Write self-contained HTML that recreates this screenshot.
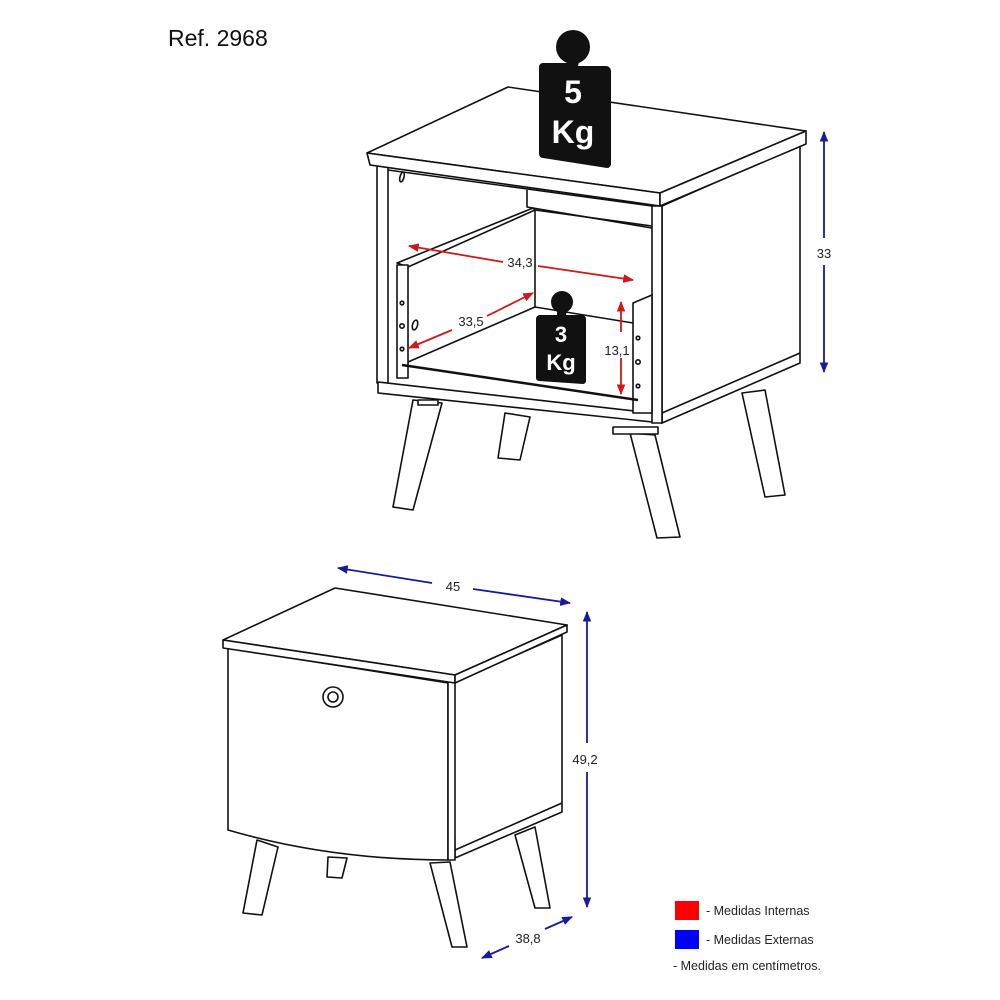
<!DOCTYPE html>
<html><head><meta charset="utf-8"><style>
html,body{margin:0;padding:0;background:#fff;}
svg{display:block;font-family:"Liberation Sans",Arial,sans-serif;}
</style></head><body>
<svg width="1000" height="1000" viewBox="0 0 1000 1000" xmlns="http://www.w3.org/2000/svg">
<defs>
<marker id="ar" viewBox="0 0 10 10" refX="9" refY="5" markerWidth="6" markerHeight="6" orient="auto-start-reverse"><path d="M0,1 L10,5 L0,9 z" fill="#d01818"/></marker>
<marker id="ab" viewBox="0 0 10 10" refX="9" refY="5" markerWidth="6" markerHeight="6" orient="auto-start-reverse"><path d="M0,1 L10,5 L0,9 z" fill="#1a1a9a"/></marker>
</defs>
<rect width="1000" height="1000" fill="#fff"/>
<text x="168" y="46" font-size="23" fill="#111">Ref. 2968</text>

<g fill="#fff" stroke="#111" stroke-width="1.6" stroke-linejoin="round">
<!-- TOP FURNITURE legs -->
<polygon points="505,413 530,417 520,460 498,458"/>
<polygon points="742,393 765,390 785,495 765,497"/>
<polygon points="413,400 442,403 413,510 393,507"/>
<polygon points="630,433 655,435 680,537 657,538"/>
<!-- body right side -->
<polygon points="662,206 800,145 800,363 662,423"/>
<line x1="662" y1="413" x2="800" y2="353"/>
<!-- left side panel -->
<rect x="377" y="165" width="11" height="218"/>
<!-- back inner -->
<line x1="388" y1="170" x2="652" y2="206"/>
<polyline points="527,190 527,207 652,228" fill="none"/>
<!-- bottom panel -->
<polygon points="378,382 652,413 662,413 662,423 378,393"/>
<!-- right front vertical -->
<rect x="652" y="206" width="10" height="217"/>
<!-- drawer -->
<polygon points="397,263 533,208 535,210 408,267"/>
<line x1="535" y1="210" x2="535" y2="307"/>
<line x1="535" y1="307" x2="408" y2="362"/>
<line x1="535" y1="307" x2="633" y2="323"/>
<line x1="535" y1="210" x2="652" y2="226"/>
<rect x="397" y="265" width="11" height="113"/>
<polygon points="633,303 652,295 652,413 633,413"/>
<line x1="402" y1="365" x2="638" y2="400" stroke-width="2.5"/>
<circle cx="402" cy="303" r="1.8"/><circle cx="402" cy="326" r="2.2"/><circle cx="402" cy="349" r="1.8"/>
<circle cx="638" cy="338" r="1.8"/><circle cx="638" cy="362" r="2.2"/><circle cx="638" cy="386" r="1.8"/>
<ellipse cx="415" cy="325" rx="2.5" ry="5" transform="rotate(15 415 325)"/>
<ellipse cx="402" cy="177" rx="2" ry="5" transform="rotate(15 402 177)"/>
<!-- top -->
<polygon points="367,153 508,87 806,131 660,193"/>
<polygon points="367,153 660,193 660,206 370,165"/>
<polygon points="660,193 806,131 806,144 660,206"/>
<rect x="418" y="400" width="20" height="5"/><rect x="613" y="427" width="45" height="7"/>
</g>

<!-- weights -->
<g fill="#111">
<circle cx="573" cy="47" r="17"/>
<path d="M566,58 h14 l-2,8 h28 a5,5 0 0 1 5,5 v93 a4,4 0 0 1 -4,4 l-64,-10 a4,4 0 0 1 -4,-4 v-87 a4,4 0 0 1 4,-4 h24 z"/>
<circle cx="562" cy="302" r="11"/>
<path d="M557,310 h10 l-1,5 h16 a4,4 0 0 1 4,4 v62 a3,3 0 0 1 -3,3 l-44,-3 a3,3 0 0 1 -3,-3 v-59 a4,4 0 0 1 4,-4 h17 z"/>
</g>
<g fill="#fff" font-weight="bold" text-anchor="middle">
<text x="573" y="103" font-size="32">5</text>
<text x="573" y="143" font-size="32">Kg</text>
<text x="561" y="342" font-size="22">3</text>
<text x="561" y="370" font-size="22">Kg</text>
</g>

<!-- red dims -->
<g stroke="#d01818" stroke-width="1.8" fill="none">
<line x1="409" y1="246" x2="503" y2="262" marker-start="url(#ar)"/>
<line x1="538" y1="266" x2="633" y2="280" marker-end="url(#ar)"/>
<line x1="409" y1="348" x2="452" y2="330" marker-start="url(#ar)"/>
<line x1="487" y1="316" x2="533" y2="293" marker-end="url(#ar)"/>
<line x1="621" y1="302" x2="621" y2="332" marker-start="url(#ar)"/>
<line x1="621" y1="358" x2="621" y2="394" marker-end="url(#ar)"/>
</g>
<g font-size="13" fill="#222" text-anchor="middle">
<text x="520" y="267">34,3</text>
<text x="471" y="326">33,5</text>
<text x="617" y="355">13,1</text>
<text x="824" y="258">33</text>
</g>
<g stroke="#1a1a9a" stroke-width="1.8" fill="none">
<line x1="824" y1="132" x2="824" y2="238" marker-start="url(#ab)"/>
<line x1="824" y1="265" x2="824" y2="372" marker-end="url(#ab)"/>
</g>

<!-- BOTTOM FURNITURE -->
<g fill="#fff" stroke="#111" stroke-width="1.6" stroke-linejoin="round">
<polygon points="328,857 347,858 342,878 327,877"/>
<polygon points="515,835 535,827 550,908 535,908"/>
<polygon points="257,840 278,847 262,915 243,913"/>
<polygon points="430,863 450,862 467,947 452,947"/>
<polygon points="453,683 562,635 562,812 455,858"/>
<line x1="455" y1="850" x2="562" y2="803"/>
<path d="M228,648 L448,683 L448,860 Q330,860 228,830 Z"/>
<rect x="448" y="680" width="7" height="180"/>
<circle cx="333" cy="697" r="10"/><circle cx="333" cy="697" r="5"/>
<polygon points="223,640 335,588 567,625 455,675"/>
<polygon points="223,640 455,675 455,683 223,648"/>
<polygon points="455,675 567,625 567,632 455,683"/>
</g>
<g stroke="#1a1a9a" stroke-width="1.8" fill="none">
<line x1="338" y1="568" x2="432" y2="583" marker-start="url(#ab)"/>
<line x1="473" y1="589" x2="570" y2="603" marker-end="url(#ab)"/>
<line x1="587" y1="612" x2="587" y2="743" marker-start="url(#ab)"/>
<line x1="587" y1="772" x2="587" y2="907" marker-end="url(#ab)"/>
<line x1="482" y1="958" x2="509" y2="946" marker-start="url(#ab)"/>
<line x1="545" y1="929" x2="572" y2="917" marker-end="url(#ab)"/>
</g>
<g font-size="13" fill="#222" text-anchor="middle">
<text x="453" y="591">45</text>
<text x="585" y="764">49,2</text>
<text x="528" y="943">38,8</text>
</g>

<!-- legend -->
<rect x="675" y="901" width="24" height="19" fill="#ff0000"/>
<rect x="675" y="930" width="24" height="19" fill="#0000ff"/>
<g font-size="12.5" fill="#222">
<text x="706" y="915">- Medidas Internas</text>
<text x="706" y="944">- Medidas Externas</text>
<text x="673" y="970">- Medidas em centímetros.</text>
</g>
</svg>
</body></html>
